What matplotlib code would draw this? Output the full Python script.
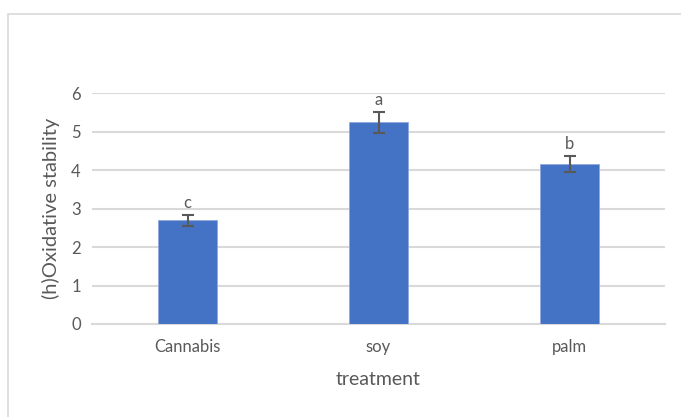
import matplotlib
matplotlib.use("Agg")
import matplotlib.pyplot as plt
from matplotlib.patches import Rectangle

categories = ["Cannabis", "soy", "palm"]
values = [2.69, 5.24, 4.16]
errors = [0.15, 0.27, 0.21]
letters = ["c", "a", "b"]
yticks = [0, 1, 2, 3, 4, 5, 6]

plt.rcParams["font.family"] = ["Lato", "DejaVu Sans"]
text_color = "#595959"
grid_color = "#d9d9d9"
bar_color = "#4472c4"

fig = plt.figure(figsize=(6.81, 4.17), dpi=100)
fig.patches.append(Rectangle((8 / 681, -0.1), 1.2, 1.1 - 14 / 417,
                             transform=fig.transFigure, fill=False,
                             edgecolor=grid_color, linewidth=1.2))

ax = fig.add_axes([92 / 681, 1 - 324 / 417, (665 - 92) / 681, (324 - 93) / 417])
x = range(len(categories))
ax.bar(x, values, width=0.31, color=bar_color, edgecolor="#8faadc", linewidth=0.6, zorder=3)
ax.errorbar(x, values, yerr=errors, fmt="none", ecolor="#595959", elinewidth=1.5,
            capsize=4, capthick=1.5, zorder=4)
for xi, v, e, lab in zip(x, values, errors, letters):
    ax.text(xi, v + e + 0.09, lab, ha="center", va="bottom", fontsize=12, color=text_color)

ax.set_ylim(0, 6)
ax.set_xlim(-0.5, 2.5)
ax.set_yticks(yticks)
ax.set_xticks(list(x))
ax.set_xticklabels(categories)
ax.yaxis.grid(True, color=grid_color, linewidth=1.5, zorder=0)
ax.set_axisbelow(True)
for s in ["top", "right", "left"]:
    ax.spines[s].set_visible(False)
ax.spines["bottom"].set_color(grid_color)
ax.spines["bottom"].set_linewidth(1.5)
ax.tick_params(axis="both", length=0, labelsize=12, colors=text_color)
ax.tick_params(axis="x", pad=11)
ax.tick_params(axis="y", pad=8)
ax.set_xlabel("treatment", fontsize=14, color=text_color, labelpad=11)
ax.set_ylabel("(h)Oxidative stability", fontsize=14.5, color=text_color, labelpad=8)

fig.savefig("out.png", dpi=100)
